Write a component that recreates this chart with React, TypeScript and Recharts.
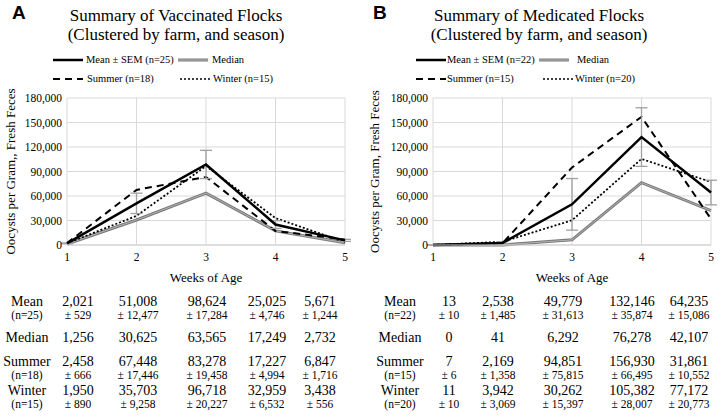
import React from "react"
import { LineChart, Line, XAxis, YAxis, CartesianGrid, ErrorBar } from "recharts"

const weeks = [1, 2, 3, 4, 5]
const yTicks = [0, 30000, 60000, 90000, 120000, 150000, 180000]

// A: vaccinated flocks
const vacMean = [2021, 51008, 98624, 25025, 5671]
const vacMeanSem = [529, 12477, 17284, 4746, 1244]
const vacMedian = [1256, 30625, 63565, 17249, 2732]
const vacSummer = [2458, 67448, 83278, 17227, 6847]
const vacSummerSem = [666, 17446, 19458, 4994, 1716]
const vacWinter = [1950, 35703, 96718, 32959, 3438]
const vacWinterSem = [890, 9258, 20227, 6532, 556]
const vacN = { mean: 25, summer: 18, winter: 15 }

// B: medicated flocks
const medMean = [13, 2538, 49779, 132146, 64235]
const medMeanSem = [10, 1485, 31613, 35874, 15086]
const medMedian = [0, 41, 6292, 76278, 42107]
const medSummer = [7, 2169, 94851, 156930, 31861]
const medSummerSem = [6, 1358, 75815, 66495, 10552]
const medWinter = [11, 3942, 30262, 105382, 77172]
const medWinterSem = [10, 3069, 15397, 28007, 20773]
const medN = { mean: 22, summer: 15, winter: 20 }

const SERIF = "'Liberation Serif', 'Times New Roman', serif"
const fmt = (v: number) => v.toLocaleString("en-US")

type PanelProps = {
  letter: string
  title: string
  yLabel: string
  mean: number[]
  meanSem: number[]
  median: number[]
  summer: number[]
  summerSem: number[]
  winter: number[]
  winterSem: number[]
  n: { mean: number; summer: number; winter: number }
  yAxisWidth: number
  yLabelX: number
  titleX: number
  legend: { a: number; at: number; b: number; bt: number; c: number; ct: number; d: number; dt: number }
  labelX: number
  cols: number[]
}

function Sample({ x, y, kind }: { x: number; y: number; kind: string }) {
  const props: any = { stroke: "#000", strokeWidth: 2.5 }
  if (kind === "median") { props.stroke = "#7a7a7a"; props.strokeWidth = 3 }
  if (kind === "summer") { props.strokeDasharray = "7 5"; props.strokeWidth = 2 }
  if (kind === "winter") { props.strokeDasharray = "2 2"; props.strokeWidth = 1.5 }
  return (
    <svg style={{ position: "absolute", left: x, top: y - 3 }} width={30} height={6}>
      <line x1={0} y1={3} x2={30} y2={3} {...props} />
      {kind === "median" && <line x1={0} y1={3} x2={30} y2={3} stroke="#b8b8b8" strokeWidth={0.9} />}
    </svg>
  )
}

function Txt({ x, y, size, children, anchor = "start" }: any) {
  const tx = anchor === "middle" ? "-50%" : "0"
  return (
    <div
      style={{
        position: "absolute",
        left: x,
        top: y,
        transform: `translate(${tx}, -50%)`,
        fontSize: size,
        fontFamily: SERIF,
        whiteSpace: "nowrap",
        lineHeight: 1,
      }}
    >
      {children}
    </div>
  )
}

function Panel(p: PanelProps) {
  const data = weeks.map((w, i) => ({
    week: w,
    mean: p.mean[i],
    meanErr: p.meanSem[i],
    median: p.median[i],
    summer: p.summer[i],
    winter: p.winter[i],
  }))
  const rows = [
    { label: "Mean", sub: `(n=${p.n.mean})`, vals: p.mean, sem: p.meanSem, y: 302, sy: 316 },
    { label: "Median", sub: null, vals: p.median, sem: null, y: 338, sy: 0 },
    { label: "Summer", sub: `(n=${p.n.summer})`, vals: p.summer, sem: p.summerSem, y: 362, sy: 376 },
    { label: "Winter", sub: `(n=${p.n.winter})`, vals: p.winter, sem: p.winterSem, y: 391, sy: 405 },
  ]
  const L = p.legend
  const tickStyle = { fill: "#000", fontSize: 11.5, fontFamily: SERIF }
  return (
    <div style={{ position: "relative", width: 361, height: 420, fontFamily: SERIF }}>
      <div
        style={{
          position: "absolute",
          left: 12,
          top: 2,
          fontFamily: "'Liberation Sans', Arial, sans-serif",
          fontWeight: "bold",
          fontSize: 19,
        }}
      >
        {p.letter}
      </div>
      <Txt x={p.titleX} y={15} size={17} anchor="middle">{p.title}</Txt>
      <Txt x={p.titleX} y={34} size={17} anchor="middle">(Clustered by farm, and season)</Txt>

      <Sample x={L.a} y={60} kind="mean" />
      <Txt x={L.at} y={60} size={10.5}>{`Mean ± SEM (n=${p.n.mean})`}</Txt>
      <Sample x={L.b} y={60} kind="median" />
      <Txt x={L.bt} y={60} size={10.5}>Median</Txt>
      <Sample x={L.c} y={79} kind="summer" />
      <Txt x={L.ct} y={79} size={10.5}>{`Summer (n=${p.n.summer})`}</Txt>
      <Sample x={L.d} y={79} kind="winter" />
      <Txt x={L.dt} y={79} size={10.5}>{`Winter (n=${p.n.winter})`}</Txt>

      <div style={{ position: "absolute", left: 0, top: 0 }}>
        <LineChart
          width={361}
          height={300}
          data={data}
          style={{ fontFamily: SERIF }}
          margin={{ top: 98, right: 361 - p.yAxisWidth - 278, left: 0, bottom: 15 }}
        >
          <CartesianGrid stroke="#d9d9d9" strokeWidth={1} />
          <XAxis
            dataKey="week"
            type="number"
            domain={[1, 5]}
            ticks={weeks}
            height={40}
            tickLine={false}
            axisLine={{ stroke: "#d0d0d0" }}
            tick={tickStyle}
            label={{ value: "Weeks of Age", position: "insideBottom", offset: 3, fill: "#000", fontSize: 13, fontFamily: SERIF }}
          />
          <YAxis
            domain={[0, 180000]}
            ticks={yTicks}
            width={p.yAxisWidth}
            tickLine={false}
            axisLine={false}
            tickSize={3}
            tickMargin={2}
            tickFormatter={fmt}
            tick={tickStyle}
            label={{
              value: p.yLabel,
              angle: -90,
              position: "insideLeft",
              offset: p.yLabelX,
              fill: "#000",
              fontSize: 13,
              fontFamily: SERIF,
              style: { textAnchor: "middle" },
            }}
          />
          {/* median drawn as a compound line: gray outer, lighter core */}
          <Line dataKey="median" stroke="#7a7a7a" strokeWidth={3} dot={false} activeDot={false} isAnimationActive={false} />
          <Line dataKey="median" stroke="#b8b8b8" strokeWidth={0.9} dot={false} activeDot={false} isAnimationActive={false} legendType="none" />
          <Line dataKey="summer" stroke="#000" strokeWidth={2} strokeDasharray="7 5" dot={false} activeDot={false} isAnimationActive={false} />
          <Line dataKey="winter" stroke="#000" strokeWidth={1.8} strokeDasharray="2 2" dot={false} activeDot={false} isAnimationActive={false} />
          <Line dataKey="mean" stroke="#000" strokeWidth={2.5} dot={false} activeDot={false} isAnimationActive={false}>
            <ErrorBar dataKey="meanErr" width={6} stroke="#a0a0a0" strokeWidth={1.3} direction="y" />
          </Line>
        </LineChart>
      </div>

      {rows.map((r) => (
        <React.Fragment key={r.label}>
          <Txt x={p.labelX} y={r.y} size={14} anchor="middle">{r.label}</Txt>
          {r.sub && <Txt x={p.labelX} y={r.sy} size={11.5} anchor="middle">{r.sub}</Txt>}
          {r.vals.map((v, i) => (
            <Txt key={"v" + i} x={p.cols[i]} y={r.y} size={14} anchor="middle">{fmt(v)}</Txt>
          ))}
          {r.sem &&
            r.sem.map((s, i) => (
              <Txt key={"s" + i} x={p.cols[i]} y={r.sy} size={11.5} anchor="middle">{`± ${fmt(s)}`}</Txt>
            ))}
        </React.Fragment>
      ))}
    </div>
  )
}

export default function App() {
  return (
    <div style={{ position: "absolute", left: 0, top: 0, width: 722, height: 420, display: "flex", background: "#fff", fontFamily: SERIF }}>
      <Panel
        letter="A"
        title="Summary of Vaccinated Flocks"
        yLabel="Oocysts per Gram,, Fresh Feces"
        mean={vacMean}
        meanSem={vacMeanSem}
        median={vacMedian}
        summer={vacSummer}
        summerSem={vacSummerSem}
        winter={vacWinter}
        winterSem={vacWinterSem}
        n={vacN}
        yAxisWidth={67}
        yLabelX={10}
        titleX={176}
        legend={{ a: 53, at: 86, b: 178, bt: 212, c: 53, ct: 87, d: 180, dt: 213 }}
        labelX={27}
        cols={[78, 138, 207, 267, 320]}
      />
      <Panel
        letter="B"
        title="Summary of Medicated Flocks"
        yLabel="Oocysts per Gram, Fresh Feces"
        mean={medMean}
        meanSem={medMeanSem}
        median={medMedian}
        summer={medSummer}
        summerSem={medSummerSem}
        winter={medWinter}
        winterSem={medWinterSem}
        n={medN}
        yAxisWidth={72}
        yLabelX={13}
        titleX={178}
        legend={{ a: 55, at: 86, b: 178, bt: 216, c: 55, ct: 86, d: 182, dt: 214 }}
        labelX={39}
        cols={[88, 137, 202, 271, 328]}
      />
    </div>
  )
}
